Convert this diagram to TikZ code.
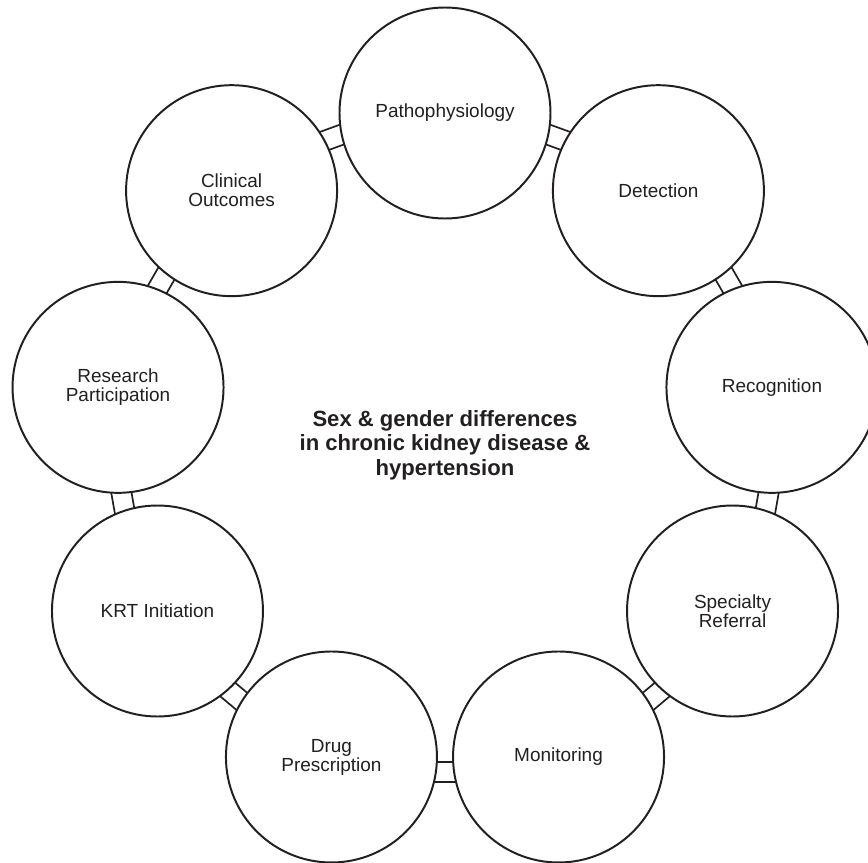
\documentclass[tikz,border=0pt]{standalone}
\usepackage{fontspec}
\setmainfont{Liberation Sans}
\usetikzlibrary{calc}
\definecolor{ink}{HTML}{231F20}
\tikzset{
  stage/.style={draw=ink,line width=1.4pt,circle,minimum size=5.275cm,inner sep=0pt,align=center,text=ink,font=\fontsize{13.5}{13.5}\selectfont},
  rung/.style={draw=ink,line width=1.2pt}
}
\newcommand{\rungs}[2]{%
  \draw[rung] ($(#1.center)!2.6345cm!(#2.center)!0.125cm!90:(#2.center)$)--($(#2.center)!2.6345cm!(#1.center)!0.125cm!-90:(#1.center)$);
  \draw[rung] ($(#1.center)!2.5624cm!(#2.center)!0.625cm!90:(#2.center)$)--($(#2.center)!2.5624cm!(#1.center)!0.625cm!-90:(#1.center)$);
}

\begin{document}
\begin{tikzpicture}
        \useasboundingbox (-11.125,-10.425) rectangle (10.575,11.125);
        \node[align=center,text=ink,font=\bfseries\fontsize{15.7}{17.4}\selectfont] (SEX) at (0,0) {Sex \& gender differences\\in chronic kidney disease \&\\hypertension};
        \node[stage] (PATH) at ([shift={+(90:8.3)}]SEX) {Pathophysiology};
        \node[stage] (DET) at ([shift={+(50:8.3)}]SEX) {Detection};
        \node[stage] (REC) at ([shift={+(10:8.3)}]SEX) {Recognition};
        \node[stage] (REF) at ([shift={+(-30:8.3)}]SEX) {Specialty\\Referral};
        \node[stage] (MON) at ([shift={+(-70:8.3)}]SEX) {Monitoring};
        \node[stage] (DRUG) at ([shift={+(-110:8.3)}]SEX) {Drug\\Prescription};
        \node[stage] (KRT) at ([shift={+(-150:8.3)}]SEX) {KRT Initiation};
        \node[stage] (RES) at ([shift={+(170:8.3)}]SEX) {Research\\Participation};
        \node[stage] (CLIN) at ([shift={+(130:8.3)}]SEX) {Clinical\\Outcomes};
        \rungs{PATH}{DET}
        \rungs{DET}{REC}
        \rungs{REC}{REF}
        \rungs{REF}{MON}
        \rungs{MON}{DRUG}
        \rungs{DRUG}{KRT}
        \rungs{KRT}{RES}
        \rungs{RES}{CLIN}
        \rungs{CLIN}{PATH}
    \end{tikzpicture}
\end{document}
